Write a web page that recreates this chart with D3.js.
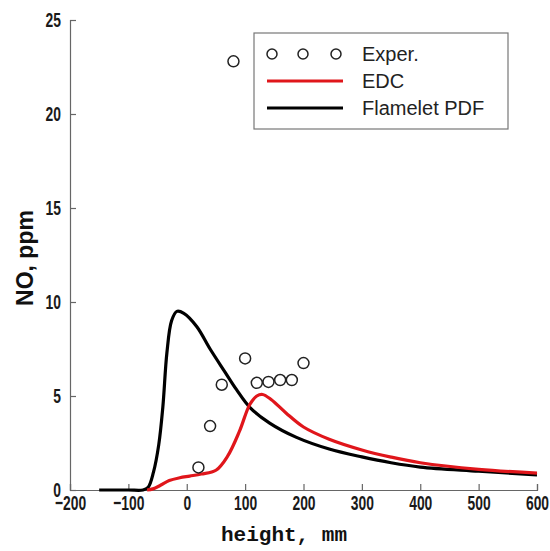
<!DOCTYPE html>
<html>
<head>
<meta charset="utf-8">
<script src="https://cdn.jsdelivr.net/npm/d3@7"></script>
<style>
  body { margin: 0; background: #fff; }
</style>
</head>
<body>
<div id="chart"></div>
<script>
// experimental points (height mm, NO ppm)
const experX = [20, 40, 60, 80, 100, 120, 140, 160, 180, 200];
const experY = [1.2, 3.4, 5.6, 22.8, 7.0, 5.7, 5.75, 5.85, 5.85, 6.75];

// EDC model
const edcX = [-68, -58, -45, -30, -12, 5, 25, 50, 70, 90, 108, 120, 130, 145, 170, 200, 244, 300, 350, 400, 500, 600];
const edcY = [0, 0.06, 0.25, 0.5, 0.65, 0.74, 0.85, 1.05, 1.8, 3.1, 4.55, 5.0, 5.08, 4.8, 4.1, 3.35, 2.7, 2.13, 1.75, 1.45, 1.1, 0.9];

// Flamelet PDF model
const flmX = [-150, -100, -75, -66, -57, -48, -41, -34, -26, -17, -5, 17, 40, 65, 85, 108, 142, 188, 244, 300, 350, 400, 500, 600];
const flmY = [0, 0, 0, 0.15, 0.95, 2.4, 4.4, 7.3, 9.0, 9.5, 9.4, 8.7, 7.5, 6.3, 5.35, 4.4, 3.56, 2.8, 2.18, 1.76, 1.45, 1.22, 1.0, 0.8];

const xTicks = [-200, -100, 0, 100, 200, 300, 400, 500, 600];
const yTicks = [0, 5, 10, 15, 20, 25];

const width = 550, height = 551;
const margin = { top: 20, right: 13, bottom: 61, left: 70 };

const svg = d3.select("#chart").append("svg")
  .attr("width", width)
  .attr("height", height);

const x = d3.scaleLinear().domain([-200, 600]).range([margin.left, width - margin.right]);
const y = d3.scaleLinear().domain([0, 25]).range([height - margin.bottom, margin.top]);

const tickFont = "'Liberation Sans', Arial, sans-serif";
const squeeze = 0.66;

// x axis
const gx = svg.append("g")
  .attr("transform", `translate(0,${y(0)})`)
  .call(d3.axisBottom(x).tickValues(xTicks).tickSize(-6).tickPadding(5).tickFormat(d => d < 0 ? "\u2212" + Math.abs(d) : d));
gx.select(".domain").attr("stroke", "#666").attr("stroke-width", 1.2);
gx.selectAll(".tick line").attr("stroke", "#666").attr("stroke-width", 1.2);
gx.selectAll("text")
  .attr("font-family", tickFont).attr("font-size", 21).attr("font-weight", "bold").attr("fill", "#1a1a1a")
  .attr("transform", `scale(${squeeze},1)`);

// y axis
const gy = svg.append("g")
  .attr("transform", `translate(${x(-200)},0)`)
  .call(d3.axisLeft(y).tickValues(yTicks).tickSize(-6).tickPadding(9));
gy.select(".domain").attr("stroke", "#666").attr("stroke-width", 1.2);
gy.selectAll(".tick line").attr("stroke", "#666").attr("stroke-width", 1.2);
gy.selectAll("text")
  .attr("font-family", tickFont).attr("font-size", 21).attr("font-weight", "bold").attr("fill", "#1a1a1a")
  .attr("x", -9 / squeeze)
  .attr("transform", `scale(${squeeze},1)`);

// axis titles
svg.append("text")
  .attr("x", 284).attr("y", 541)
  .attr("text-anchor", "middle")
  .attr("font-family", "'Liberation Mono', 'Courier New', monospace")
  .attr("font-weight", "bold")
  .attr("font-size", 21)
  .attr("fill", "#111")
  .text("height, mm");

svg.append("text")
  .attr("transform", "translate(33,258) rotate(-90)")
  .attr("text-anchor", "middle")
  .attr("font-family", "'Liberation Sans', Arial, sans-serif")
  .attr("font-weight", "bold")
  .attr("font-size", 23)
  .attr("fill", "#111")
  .text("NO, ppm");

// curves
const line = (xs, ys) => d3.line()
  .x(i => x(xs[i]))
  .y(i => y(ys[i]))
  .curve(d3.curveCatmullRom.alpha(0.5))(d3.range(xs.length));

svg.append("path")
  .attr("d", line(flmX, flmY))
  .attr("fill", "none")
  .attr("stroke", "#000")
  .attr("stroke-width", 3.2)
  .attr("stroke-linejoin", "round");

svg.append("path")
  .attr("d", line(edcX, edcY))
  .attr("fill", "none")
  .attr("stroke", "#e0161b")
  .attr("stroke-width", 3.2)
  .attr("stroke-linejoin", "round");

// experimental circles
svg.selectAll("circle.exp")
  .data(d3.range(experX.length))
  .enter().append("circle")
  .attr("class", "exp")
  .attr("cx", i => x(experX[i]))
  .attr("cy", i => y(experY[i]))
  .attr("r", 5.5)
  .attr("fill", "none")
  .attr("stroke", "#222")
  .attr("stroke-width", 1.5);

// legend
const lg = svg.append("g");
lg.append("rect")
  .attr("x", 254).attr("y", 33)
  .attr("width", 254).attr("height", 96)
  .attr("fill", "#fff")
  .attr("stroke", "#777")
  .attr("stroke-width", 1.2);

[272, 303, 336].forEach(cx => {
  lg.append("circle")
    .attr("cx", cx).attr("cy", 54).attr("r", 5)
    .attr("fill", "none").attr("stroke", "#222").attr("stroke-width", 1.5);
});
lg.append("line").attr("x1", 267).attr("x2", 343).attr("y1", 81).attr("y2", 81)
  .attr("stroke", "#e0161b").attr("stroke-width", 3.2);
lg.append("line").attr("x1", 267).attr("x2", 343).attr("y1", 108).attr("y2", 108)
  .attr("stroke", "#000").attr("stroke-width", 3.2);

const legendText = ["Exper.", "EDC", "Flamelet PDF"];
const legendY = [54, 81, 108];
legendText.forEach((t, i) => {
  lg.append("text")
    .attr("x", 362).attr("y", legendY[i])
    .attr("dy", "0.35em")
    .attr("font-family", "'Liberation Sans', Arial, sans-serif")
    .attr("font-size", 20)
    .attr("fill", "#222")
    .text(t);
});
</script>
</body>
</html>
